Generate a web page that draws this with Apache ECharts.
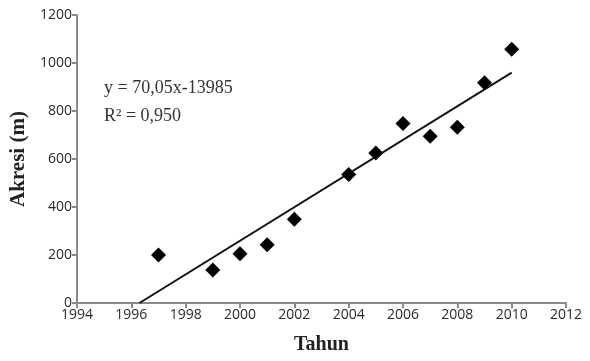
<!DOCTYPE html>
<html><head><meta charset="utf-8">
<script src="https://cdn.jsdelivr.net/npm/echarts@6/dist/echarts.min.js"></script>
<style>html,body{margin:0;padding:0;background:#fff}#c{width:590px;height:361px}</style>
</head><body><div id="c"></div>
<script>
const years = [1997, 1999, 2000, 2001, 2002, 2004, 2005, 2006, 2007, 2008, 2009, 2010];
const akresi = [200, 137, 205, 243, 349, 535, 625, 748, 695, 732, 918, 1057];
const trendX = [1996.3, 2010];
const trendY = [0, 960];
const eqText = 'y = 70,05x-13985';
const r2Text = 'R² = 0,950';

const chart = echarts.init(document.getElementById('c'));
const axisLine = {lineStyle: {color: '#8a8a8a', width: 2}};
const axisTick = {show: true, length: 5, lineStyle: {color: '#8a8a8a', width: 2}};
const lbl = {color: '#2a2a2a', fontSize: 14, fontFamily: 'Open Sans', margin: 5, formatter: v => String(v)};
chart.setOption({
  animation: false,
  grid: {left: 77, right: 24, top: 15, bottom: 58},
  xAxis: {
    type: 'value', min: 1994, max: 2012, interval: 2,
    axisLine: axisLine, axisTick: axisTick, splitLine: {show: false},
    axisLabel: lbl,
    name: 'Tahun', nameLocation: 'middle', nameGap: 32,
    nameTextStyle: {fontFamily: 'Liberation Serif', fontSize: 20, fontWeight: 'bold', color: '#222'}
  },
  yAxis: {
    type: 'value', min: 0, max: 1200, interval: 200,
    axisLine: Object.assign({show: true}, axisLine), axisTick: axisTick, splitLine: {show: false},
    axisLabel: lbl,
    name: 'Akresi (m)', nameLocation: 'middle', nameGap: 47,
    nameTextStyle: {fontFamily: 'Liberation Serif', fontSize: 21, fontWeight: 'bold', color: '#222'}
  },
  series: [
    {type: 'line', data: trendX.map((x, i) => [x, trendY[i]]), symbol: 'none',
     lineStyle: {color: '#111', width: 2}, z: 2},
    {type: 'scatter', data: years.map((y, i) => [y, akresi[i]]), symbol: 'diamond',
     symbolSize: 15, itemStyle: {color: '#000', opacity: 1}, z: 3}
  ],
  graphic: [
    {type: 'text', left: 104, top: 79, style: {text: eqText, font: '18px "Liberation Serif"', fill: '#333'}},
    {type: 'text', left: 104, top: 107, style: {text: r2Text, font: '18px "Liberation Serif"', fill: '#333'}}
  ]
});
</script></body></html>
